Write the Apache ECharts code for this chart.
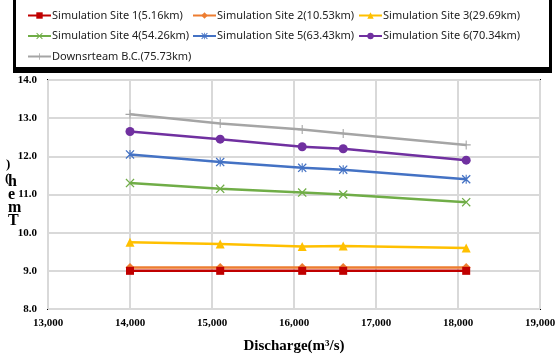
<!DOCTYPE html>
<html>
<head>
<meta charset="utf-8">
<script src="https://cdn.jsdelivr.net/npm/echarts@6/dist/echarts.min.js"></script>
<style>
  html, body { margin: 0; padding: 0; background: #fff; }
  #main { width: 560px; height: 359px; }
</style>
</head>
<body>
<div id="main"></div>
<script>
    // discharge (m3/s) for each run
    var discharge = [14000, 15100, 16100, 16600, 18100];

    var siteNames = [
        'Simulation Site 1(5.16km)',
        'Simulation Site 2(10.53km)',
        'Simulation Site 3(29.69km)',
        'Simulation Site 4(54.26km)',
        'Simulation Site 5(63.43km)',
        'Simulation Site 6(70.34km)',
        'Downsrteam B.C.(75.73km)'
    ];

    // values
    var site1 = [9.00, 9.00, 9.00, 9.00, 9.00];
    var site2 = [9.09, 9.09, 9.09, 9.09, 9.09];
    var site3 = [9.75, 9.70, 9.64, 9.65, 9.60];
    var site4 = [11.30, 11.15, 11.05, 11.00, 10.80];
    var site5 = [12.05, 11.85, 11.70, 11.65, 11.40];
    var site6 = [12.65, 12.45, 12.25, 12.20, 11.90];
    var downstream = [13.10, 12.86, 12.70, 12.60, 12.30];

    var yTicks = [8, 9, 10, 11, 12, 13, 14];
    var xTicks = [13000, 14000, 15000, 16000, 17000, 18000, 19000];

    var myColor = ['#C00000', '#ED7D31', '#FFC000', '#70AD47', '#4472C4', '#7030A0', '#A5A5A5'];

    // marker shapes
    var xMark = 'path://M1,0 L5,4 L9,0 L10,1 L6,5 L10,9 L9,10 L5,6 L1,10 L0,9 L4,5 L0,1 Z';
    var starMark = 'path://M1,0 L5,4 L9,0 L10,1 L6,5 L10,9 L9,10 L5,6 L1,10 L0,9 L4,5 L0,1 Z M4.4,0 L5.6,0 L5.6,10 L4.4,10 Z';
    var plusMark = 'path://M4.4,0 H5.6 V4.4 H10 V5.6 H5.6 V10 H4.4 V5.6 H0 V4.4 H4.4 Z';
    var symbols = ['rect', 'diamond', 'triangle', xMark, starMark, 'circle', plusMark];
    var symbolSizes = [8, 9, 9, 9, 9, 9, 9];

    var allData = [site1, site2, site3, site4, site5, site6, downstream];

    function pairs(ys) {
        var out = [];
        for (var i = 0; i < discharge.length; i++) {
            out.push([discharge[i], ys[i]]);
        }
        return out;
    }

    var series = [];
    for (var k = 0; k < allData.length; k++) {
        series.push({
            name: siteNames[k],
            type: 'line',
            data: pairs(allData[k]),
            symbol: symbols[k],
            symbolSize: symbolSizes[k],
            showAllSymbol: true,
            lineStyle: { color: myColor[k], width: 2.5 },
            itemStyle: { color: myColor[k] },
            z: k === 0 ? 5 : 3
        });
    }

    var legendText = { fontFamily: 'Noto Sans', fontSize: 11, color: '#222', padding: [0, 0, 0, -4] };
    function makeLegend(names, left) {
        return {
            orient: 'vertical',
            left: left,
            top: 10,
            itemGap: 9.5,
            itemWidth: 23,
            itemHeight: 8,
            padding: 0,
            data: names,
            textStyle: legendText,
            selectedMode: false
        };
    }

    var myChart = echarts.init(document.getElementById('main'));

    var option = {
        backgroundColor: '#fff',
        animation: false,
        legend: [
            makeLegend([siteNames[0], siteNames[3], siteNames[6]], 27),
            makeLegend([siteNames[1], siteNames[4]], 192),
            makeLegend([siteNames[2], siteNames[5]], 358)
        ],
        grid: {
            left: 48,
            right: 20,
            top: 80,
            bottom: 47,
            show: true,
            borderColor: '#000',
            borderWidth: 2,
            backgroundColor: 'transparent'
        },
        xAxis: {
            type: 'value',
            min: xTicks[0],
            max: xTicks[xTicks.length - 1],
            interval: 1000,
            name: 'Discharge(m³/s)',
            nameLocation: 'middle',
            nameGap: 30,
            nameTextStyle: { fontFamily: 'Liberation Serif', fontWeight: 'bold', fontSize: 15, color: '#000' },
            axisLine: { show: false },
            axisTick: { show: false },
            axisLabel: {
                margin: 9,
                fontFamily: 'Liberation Serif',
                fontWeight: 'bold',
                fontSize: 11,
                color: '#000',
                formatter: function (v) { return v.toLocaleString('en-US'); }
            },
            splitLine: { show: true, lineStyle: { color: '#d9d9d9', width: 2 } }
        },
        yAxis: {
            type: 'value',
            min: yTicks[0],
            max: yTicks[yTicks.length - 1],
            interval: 1,
            axisLine: { show: false },
            axisTick: { show: false },
            axisLabel: {
                margin: 11,
                fontFamily: 'Liberation Serif',
                fontWeight: 'bold',
                fontSize: 11,
                color: '#000',
                formatter: function (v) { return v.toFixed(1); }
            },
            splitLine: { show: true, lineStyle: { color: '#d9d9d9', width: 2 } }
        },
        graphic: [
            // legend frame
            {
                type: 'rect',
                shape: { x: 14.5, y: -10, width: 536, height: 80 },
                style: { fill: 'none', stroke: '#000', lineWidth: 3 },
                silent: true
            },
            {
                type: 'rect',
                shape: { x: 13, y: 67, width: 539, height: 6 },
                style: { fill: '#000' },
                silent: true
            },
            // garbled vertical y axis title as in the source picture
            {
                type: 'text',
                left: 6,
                top: 158,
                style: {
                    text: ')',
                    font: 'bold 13px "Liberation Serif"',
                    fill: '#000'
                }
            },
            {
                type: 'text',
                left: 5,
                top: 172,
                style: {
                    text: '(',
                    font: 'bold 13px "Liberation Serif"',
                    fill: '#000'
                }
            },
            {
                type: 'text',
                left: 8,
                top: 174,
                style: {
                    text: 'h\ne\nm\nT',
                    font: 'bold 16px "Liberation Serif"',
                    lineHeight: 13,
                    fill: '#000'
                }
            }
        ],
        series: series
    };

    myChart.setOption(option);
</script>
</body>
</html>
